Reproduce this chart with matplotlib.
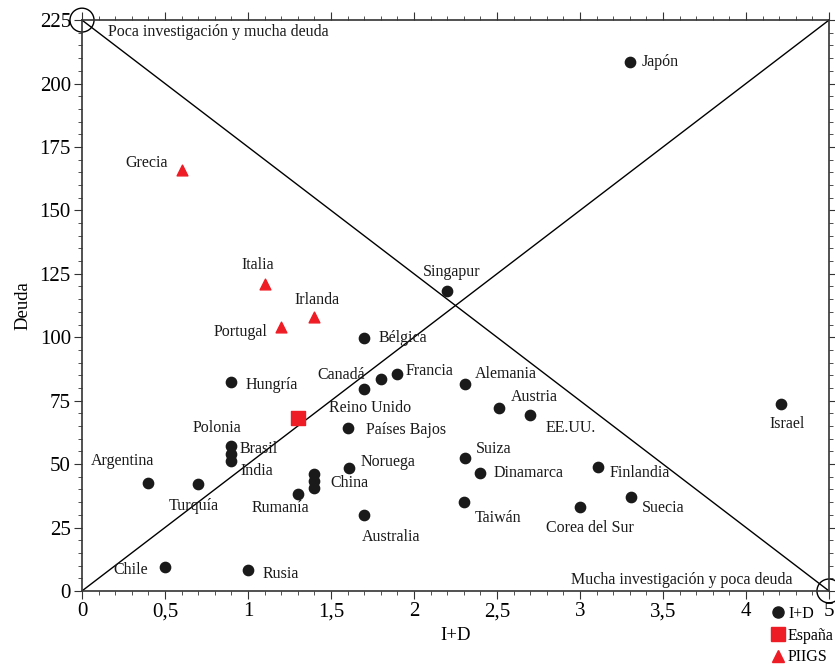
import matplotlib
matplotlib.use('Agg')
import matplotlib.pyplot as plt
from matplotlib.patches import Ellipse
from matplotlib.lines import Line2D

plt.rcParams['font.family'] = ['Liberation Serif', 'DejaVu Serif']
plt.rcParams['font.size'] = 11

# countries (I+D, Deuda)
paises = ['Japón', 'Singapur', 'Bélgica', 'Hungría', 'Canadá', 'Reino Unido', 'Francia',
          'Alemania', 'Austria', 'EE.UU.', 'Israel', 'Países Bajos', 'Polonia', 'Brasil',
          'India', 'Argentina', 'Turquía', 'Rumanía', 'China', 'China2', 'China3',
          'Noruega', 'Australia', 'Suiza', 'Dinamarca', 'Taiwán', 'Corea del Sur',
          'Finlandia', 'Suecia', 'Chile', 'Rusia']
id_x = [3.30, 2.20, 1.70, 0.90, 1.80, 1.70, 1.90,
        2.31, 2.51, 2.70, 4.21, 1.60, 0.90, 0.90,
        0.90, 0.40, 0.70, 1.30, 1.40, 1.40, 1.40,
        1.61, 1.70, 2.31, 2.40, 2.30, 3.00,
        3.11, 3.31, 0.50, 1.00]
deuda = [208.4, 118.2, 99.7, 82.3, 83.5, 79.6, 85.5,
         81.6, 72.1, 69.3, 73.7, 64.2, 57.1, 54.1,
         51.2, 42.5, 42.2, 38.2, 46.1, 43.3, 40.6,
         48.5, 29.9, 52.4, 46.5, 35.1, 33.1,
         48.9, 37.0, 9.5, 8.3]
# label offsets in pixels and alignment
offs = [(12, 0, 'left'), (4, 19, 'center'), (14, 0, 'left'), (14, -3, 'left'),
        (-16, 4, 'right'), (6, -19, 'center'), (8, 3, 'left'),
        (9, 10, 'left'), (12, 11, 'left'), (15, -13, 'left'), (6, -20, 'center'),
        (18, -2, 'left'), (-14, 18, 'center'), (8, 5, 'left'),
        (9, -10, 'left'), (-26, 22, 'center'), (-4, -22, 'center'), (-17, -14, 'center'),
        None, (16, -2, 'left'), None,
        (11, 6, 'left'), (27, -22, 'center'), (10, 9, 'left'), (13, 0, 'left'),
        (11, -16, 'left'), (10, -21, 'center'),
        (11, -6, 'left'), (10, -11, 'left'), (-17, -3, 'right'), (15, -4, 'left')]

piigs = ['Grecia', 'Italia', 'Portugal', 'Irlanda']
piigs_x = [0.60, 1.10, 1.20, 1.40]
piigs_y = [165.9, 121.0, 104.0, 108.0]
piigs_offs = [(-14, 7, 'right'), (-7, 19, 'center'), (-14, -5, 'right'), (3, 17, 'center')]

espana_x = [1.30]
espana_y = [68.2]

xticks = [0, 0.5, 1, 1.5, 2, 2.5, 3, 3.5, 4, 4.5]
xticklabels = ['0', '0,5', '1', '1,5', '2', '2,5', '3', '3,5', '4', '5']
yticks = [0, 25, 50, 75, 100, 125, 150, 175, 200, 225]

fig = plt.figure(figsize=(8.35, 6.7), dpi=100)
ax = fig.add_axes([0.0982, 0.118, 0.8946, 0.852])
ax.set_xlim(0, 4.5)
ax.set_ylim(0, 225)

ax.plot([0, 4.5], [0, 225], color='k', lw=1)
ax.plot([0, 4.5], [225, 0], color='k', lw=1)

ax.scatter(id_x, deuda, s=55, color='#1a1a1a', zorder=3, clip_on=False)
ax.scatter(piigs_x, piigs_y, s=60, marker='^', color='#ee1c25', zorder=3)
ax.scatter(espana_x, espana_y, s=110, marker='s', color='#ee1c25', zorder=3)

txtc = '#1a1a1a'
for name, x, y, o in zip(paises, id_x, deuda, offs):
    if o is None:
        continue
    ax.annotate(name.rstrip('23'), (x, y), xytext=(o[0], o[1]), textcoords='offset pixels',
                ha=o[2], va='center', fontsize=11.5, color=txtc)
for name, x, y, o in zip(piigs, piigs_x, piigs_y, piigs_offs):
    ax.annotate(name, (x, y), xytext=(o[0], o[1]), textcoords='offset pixels',
                ha=o[2], va='center', fontsize=11.5, color=txtc)

# corner circles
for cx, cy in [(0, 225), (4.5, 0)]:
    ax.add_patch(Ellipse((cx, cy), 0.145, 9.4, fill=False, ec='k', lw=1, clip_on=False))

ax.text(0.155, 220.5, 'Poca investigación y mucha deuda', fontsize=11.5, va='center', color=txtc)
ax.text(4.28, 4.5, 'Mucha investigación y poca deuda', fontsize=11.5, va='center', ha='right',
        color=txtc)

ax.set_xticks(xticks)
ax.set_xticklabels(xticklabels)
ax.set_yticks(yticks)
ax.set_xticks([i * 0.1 for i in range(46)], minor=True)
ax.set_yticks(list(range(0, 226, 5)), minor=True)
ax.tick_params(which='both', direction='out', top=True, right=True, labelsize=15,
               color='#333333')
ax.tick_params(which='major', length=6, pad=2)
ax.tick_params(which='minor', length=3)
for s in ax.spines.values():
    s.set_linewidth(1.2)
    s.set_color('#333333')

ax.set_xlabel('I+D', fontsize=13.5, labelpad=4)
ax.set_ylabel('Deuda', fontsize=13.5, labelpad=6)

handles = [Line2D([], [], marker='o', ls='', color='#1a1a1a', markersize=8),
           Line2D([], [], marker='s', ls='', color='#ee1c25', markersize=9.5),
           Line2D([], [], marker='^', ls='', color='#ee1c25', markersize=8)]
fig.legend(handles, ['I+D', 'España', 'PIIGS'], loc='upper left', bbox_to_anchor=(0.915, 0.105),
           frameon=False, fontsize=11.5, handletextpad=0.1, labelspacing=0.35,
           handlelength=1.0, borderaxespad=0)

fig.savefig('out.png', dpi=100)
